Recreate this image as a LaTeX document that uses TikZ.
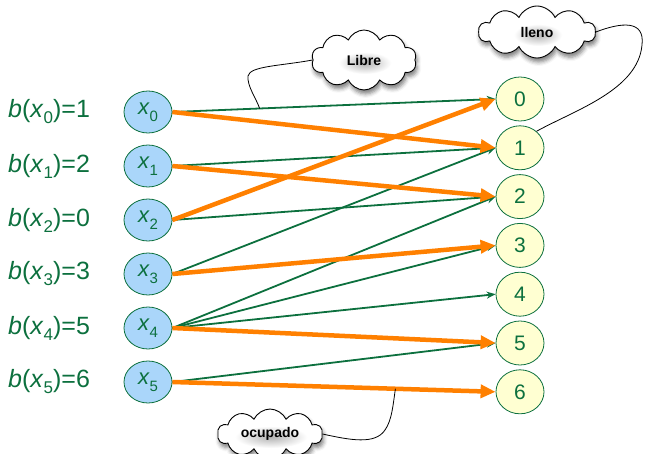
\documentclass[tikz,border=0pt]{standalone}
\usepackage{fontspec}
\setmainfont{Liberation Sans}
\usetikzlibrary{shapes.geometric,shapes.symbols,arrows.meta,shadows.blur,calc}
\definecolor{edgegreen}{RGB}{12,112,62}
\definecolor{txtgreen}{RGB}{12,112,62}
\definecolor{matchorange}{RGB}{255,128,0}
\definecolor{varblue}{RGB}{170,214,250}
\definecolor{binyellow}{RGB}{255,255,210}
% lowered index: #1 font size, #2 drop, #3 text
\newcommand{\idx}[3]{\raisebox{-#2}{\fontsize{#1}{#1}\selectfont #3}}
\begin{document}
\begin{tikzpicture}[x=1pt,y=-1pt,
  varnode/.style={ellipse, draw=edgegreen, line width=0.8pt, fill=varblue,
    minimum width=48pt, minimum height=42pt, inner sep=0pt, text=txtgreen,
    font=\fontsize{22}{22}\selectfont},
  binnode/.style={ellipse, draw=edgegreen, line width=0.8pt, fill=binyellow,
    minimum width=48pt, minimum height=44pt, inner sep=0pt, text=txtgreen,
    font=\fontsize{21}{21}\selectfont},
  bound/.style={anchor=west, text=txtgreen, inner sep=0pt,
    font=\fontsize{25}{25}\selectfont},
  edge/.style={draw=edgegreen, line width=1.8pt, -{Stealth[length=9pt,width=7pt]}},
  match/.style={draw=matchorange, line width=4.5pt, -{Triangle[length=15pt,width=13pt]}},
  tag/.style={cloud, cloud puffs=10, cloud puff arc=130, draw=black,
    fill=white, line width=0.9pt, inner sep=0pt,
    blur shadow={shadow xshift=1.5pt, shadow yshift=-4pt, shadow blur radius=4pt, shadow opacity=50}},
  tagtext/.style={font=\bfseries\fontsize{14}{14}\selectfont, inner sep=0pt},
  glow/.style={inner color=black!30, outer color=white},
  lead/.style={draw=black, line width=0.8pt}]
\useasboundingbox (0,0) rectangle (645,454);

% variables and their bound values
\foreach \i/\b [evaluate=\i as \yy using 112+54*\i] in {0/1,1/2,2/0,3/3,4/5,5/6}{
  \node[varnode] (x\i) at (148,\yy) {\textit{x}\idx{15}{7pt}{\i}};
  \node[bound] (b\i) at (8,\yy) {\textit{b}(\textit{x}\idx{17}{6pt}{\i})=\b};
}
% bins
\foreach \j [evaluate=\j as \yy using 99+48.8*\j] in {0,...,6}{
  \node[binnode] (r\j) at (520,\yy) {\j};
}

% admissible assignments
\foreach \s/\t in {0/0,1/1,2/2,3/1,4/2,4/3,4/4,5/5}{
  \draw[edge] (x\s.east) -- (r\t.west);
}
% chosen assignment
\foreach \s/\t in {0/1,1/2,2/0,3/3,4/5,5/6}{
  \draw[match] (x\s.east) -- (r\t.west);
}

% callouts: cloud outline, soft grey halo, bold caption
\node[tag, aspect=1.8, minimum width=105pt, minimum height=60pt] (libre) at (364,60) {};
\node[tag, aspect=2.3, minimum width=117pt, minimum height=52pt] (lleno) at (537,32) {};
\node[tag, aspect=2.2, minimum width=105pt, minimum height=50pt] (ocup) at (270,434) {};
\foreach \c/\rx in {libre/26,lleno/24,ocup/36}{
  \shade[glow] ($(\c.center)+(1,3)$) ellipse ({\rx} and 11);
}
\node[tagtext] at (libre.center) {Libre};
\node[tagtext] at (lleno.center) {lleno};
\node[tagtext] at (ocup.center) {ocupado};

\coordinate (pL) at ($(x0.east)!0.27!(r0.west)$);
\coordinate (pO) at ($(x5.east)!0.69!(r6.west)$);

\draw[lead] (libre.west) .. controls (280,66) and (250,66) .. (248,76)
  .. controls (247,86) and (256,98) .. (pL);
\draw[lead] (lleno.east) .. controls (622,22) and (645,20) .. (642,45)
  .. controls (638,90) and (575,110) .. (r1.45);
\draw[lead] (ocup.east) .. controls (350,440) and (375,445) .. (385,430)
  .. controls (392,420) and (393,405) .. (pO);
\end{tikzpicture}
\end{document}
